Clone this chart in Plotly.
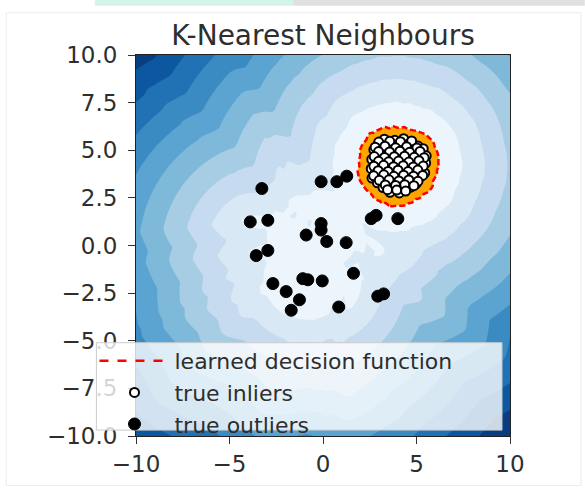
import numpy as np
import plotly.graph_objects as go

# ---------------- data ----------------
title_text = "K-Nearest Neighbours"
legend_labels = ["learned decision function", "true inliers", "true outliers"]

inliers_x = [3.28, 3.84, 4.31,
             2.93, 3.52, 4.05, 4.62, 5.08,
             2.72, 3.19, 3.71, 4.24, 4.83, 5.36,
             2.86, 3.43, 3.92, 4.47, 5.02, 5.52,
             2.61, 3.12, 3.66, 4.17, 4.71, 5.27,
             2.83, 3.37, 3.88, 4.42, 4.96, 5.49,
             2.58, 3.09, 3.62, 4.13, 4.67, 5.21,
             2.79, 3.33, 3.87, 4.41, 4.92, 5.44,
             2.62, 3.16, 3.68, 4.19, 4.72, 5.19,
             2.91, 3.42, 3.93, 4.46, 4.97,
             3.21, 3.73, 4.24, 4.69,
             3.58, 4.08,
             3.55, 4.30, 3.95, 4.55, 3.25, 4.80, 3.70, 4.10,
             2.98, 3.57, 4.14, 4.74,
             2.79, 3.31, 3.88, 4.47, 5.02,
             2.97, 3.56, 4.11, 4.63, 5.19,
             2.74, 3.29, 3.81, 4.36, 4.88, 5.41,
             2.97, 3.51, 4.04, 4.59, 5.13,
             2.72, 3.24, 3.77, 4.29, 4.83, 5.36,
             2.95, 3.48, 4.01, 4.55, 5.07,
             2.71, 3.25, 3.79, 4.31, 4.84, 5.33,
             3.01, 3.53, 4.06, 4.59, 5.08,
             3.33, 3.88, 4.37, 4.86,
             3.45, 3.94, 4.42]
inliers_y = [5.58, 5.52, 5.61,
             5.27, 5.34, 5.29, 5.36, 5.22,
             5.02, 5.09, 4.98, 5.07, 5.01, 5.08,
             4.77, 4.83, 4.74, 4.86, 4.79, 4.71,
             4.52, 4.58, 4.49, 4.61, 4.53, 4.57,
             4.28, 4.34, 4.26, 4.31, 4.24, 4.33,
             4.03, 4.08, 3.99, 4.07, 4.02, 4.09,
             3.78, 3.84, 3.76, 3.82, 3.74, 3.81,
             3.54, 3.58, 3.49, 3.57, 3.52, 3.59,
             3.29, 3.33, 3.26, 3.31, 3.24,
             3.04, 3.07, 2.99, 3.06,
             2.79, 2.76,
             4.15, 4.45, 3.60, 3.95, 4.70, 4.20, 5.15, 3.35,
             5.43, 5.47, 5.45, 5.49,
             5.16, 5.21, 5.13, 5.19, 5.12,
             4.93, 4.91, 4.95, 4.89, 4.94,
             4.67, 4.62, 4.66, 4.69, 4.63, 4.61,
             4.42, 4.39, 4.43, 4.38, 4.45,
             4.16, 4.21, 4.14, 4.19, 4.12, 4.17,
             3.93, 3.89, 3.95, 3.88, 3.96,
             3.66, 3.71, 3.63, 3.69, 3.64, 3.68,
             3.42, 3.45, 3.39, 3.44, 3.37,
             3.18, 3.15, 3.19, 3.14,
             2.93, 2.91, 2.86]

outliers_x = [-3.27, -0.10, 0.74, 1.27, -3.89, -2.95, -0.10, -0.10, -0.90,
              0.20, 1.24, 2.58, 2.84, 4.00, -3.57, -2.95, 1.63, -2.68,
              -1.08, -0.81, -0.04, -1.97, -1.26, -1.70, 0.84, 2.93, 3.24]
outliers_y = [2.99, 3.35, 3.35, 3.64, 1.24, 1.32, 1.15, 0.81, 0.55,
              0.21, 0.15, 1.41, 1.58, 1.41, -0.53, -0.26, -1.46, -2.00,
              -1.74, -1.80, -1.86, -2.42, -2.85, -3.40, -3.23, -2.66, -2.54]

x_tick_vals = [-10, -5, 0, 5, 10]
x_tick_text = ["−10", "−5", "0", "5", "10"]
y_tick_vals = [10, 7.5, 5, 2.5, 0, -2.5, -5, -7.5, -10]
y_tick_text = ["10.0", "7.5", "5.0", "2.5", "0.0", "−2.5", "−5.0", "−7.5", "−10.0"]

n_neighbors = 5
grid_n = 100
n_bands = 10

# ---------------- KNN score field ----------------
X = np.column_stack([inliers_x + outliers_x, inliers_y + outliers_y])
n_in = len(inliers_x)
gx = np.linspace(-10, 10, grid_n)
gy = np.linspace(-10, 10, grid_n)
xx, yy = np.meshgrid(gx, gy)
pts = np.column_stack([xx.ravel(), yy.ravel()])
d = np.sqrt(((pts[:, None, :] - X[None, :, :]) ** 2).sum(-1))
d.sort(axis=1)
Z = -d[:, n_neighbors - 1].reshape(xx.shape)

# training scores: distance to k-th neighbour, excluding the point itself
dt = np.sqrt(((X[:, None, :] - X[None, :, :]) ** 2).sum(-1))
dt.sort(axis=1)
train_dist = dt[:, n_neighbors]
# threshold halfway between the most isolated inlier and the least isolated outlier
threshold = -0.5 * (train_dist[:n_in].max() + train_dist[n_in:].min())
zmin = float(Z.min())
step = (threshold - zmin) / n_bands

# matplotlib "Blues" anchors, sampled (reversed) at band midpoints
blues = np.array([[247, 251, 255], [222, 235, 247], [198, 219, 239], [158, 202, 225],
                  [107, 174, 214], [66, 146, 198], [33, 113, 181], [8, 81, 156], [8, 48, 107]], float)
anch = np.linspace(0, 1, len(blues))


def blues_at(t):
    r, g, b = (np.interp(t, anch, blues[:, i]) for i in range(3))
    return "rgb(%d,%d,%d)" % (round(r), round(g), round(b))


band_cols = [blues_at(1 - (j + 0.5) / n_bands) for j in range(n_bands)]
band_cols = [band_cols[0]] + band_cols + ["orange"]
cscale = []
nb = len(band_cols)
for i, c in enumerate(band_cols):
    lo = 0 if i == 0 else (i - 0.5) / (nb - 1)
    hi = 1 if i == nb - 1 else (i + 0.5) / (nb - 1)
    cscale.append([lo, c])
    cscale.append([hi, c])

FONT = "DejaVu Sans"
TXT = "#2e2e2e"

fig = go.Figure()
fig.add_trace(go.Contour(
    x=gx, y=gy, z=Z,
    contours=dict(start=zmin, end=threshold, size=step, coloring="fill", showlines=False),
    colorscale=cscale, showscale=False, line=dict(width=0), hoverinfo="skip", showlegend=False))
fig.add_trace(go.Contour(
    x=gx, y=gy, z=Z,
    contours=dict(start=threshold, end=threshold, size=1, coloring="none"),
    line=dict(color="red", width=2.5, dash="6px,3px"), showscale=False,
    hoverinfo="skip", showlegend=False))
fig.add_trace(go.Scatter(
    x=[None], y=[None], mode="lines", name=legend_labels[0],
    line=dict(color="red", width=2.5, dash="dash")))
fig.add_trace(go.Scatter(
    x=inliers_x, y=inliers_y, mode="markers", name=legend_labels[1],
    marker=dict(color="white", size=9, line=dict(color="black", width=2))))
fig.add_trace(go.Scatter(
    x=outliers_x, y=outliers_y, mode="markers", name=legend_labels[2],
    marker=dict(color="black", size=12, line=dict(color="black", width=1))))

axis_common = dict(showgrid=False, zeroline=False, ticks="outside", ticklen=7,
                   tickcolor="#333", tickwidth=1, showline=True, linecolor="#222",
                   linewidth=1, mirror=True, tickfont=dict(family=FONT, size=23, color=TXT))
fig.update_xaxes(range=[-10, 10], tickvals=x_tick_vals, ticktext=x_tick_text, **axis_common)
fig.update_yaxes(range=[-10, 10], tickvals=y_tick_vals, ticktext=y_tick_text,
                 ticklabelstandoff=6, **axis_common)

fig.update_layout(
    width=585, height=489,
    margin=dict(l=136, r=75, t=55, b=46),
    paper_bgcolor="white", plot_bgcolor="white",
    title=dict(text=title_text, x=0.5, xref="paper", xanchor="center",
               y=1 - 35 / 489, yref="container", yanchor="middle",
               font=dict(family=FONT, size=28, color=TXT)),
    legend=dict(x=-0.111, y=0.252, xanchor="left", yanchor="top",
                bgcolor="rgba(0,0,0,0)", borderwidth=0,
                itemwidth=70, font=dict(family=FONT, size=22, color=TXT),
                tracegroupgap=0),
    showlegend=True,
    shapes=[
        # legend box
        dict(type="rect", xref="paper", yref="paper", x0=-0.1058, x1=0.9786, y0=0.0155, y1=0.2448,
             line=dict(color="#cccccc", width=1), fillcolor="rgba(255,255,255,0.8)", layer="above"),
        # faint outer frame of the figure
        dict(type="rect", xref="paper", yref="paper", x0=-0.347, x1=1.19, y0=-0.13, y1=1.111,
             line=dict(color="#ececec", width=1), fillcolor="rgba(0,0,0,0)", layer="below"),
        # thin strip along the top edge
        dict(type="rect", xref="paper", yref="paper", x0=-0.11, x1=0.42, y0=1.129, y1=1.15,
             line=dict(width=0), fillcolor="#d3f4e8", layer="below"),
        dict(type="rect", xref="paper", yref="paper", x0=0.42, x1=1.2, y0=1.129, y1=1.15,
             line=dict(width=0), fillcolor="#e0e0e0", layer="below"),
    ],
)

fig.write_html("out.html")
